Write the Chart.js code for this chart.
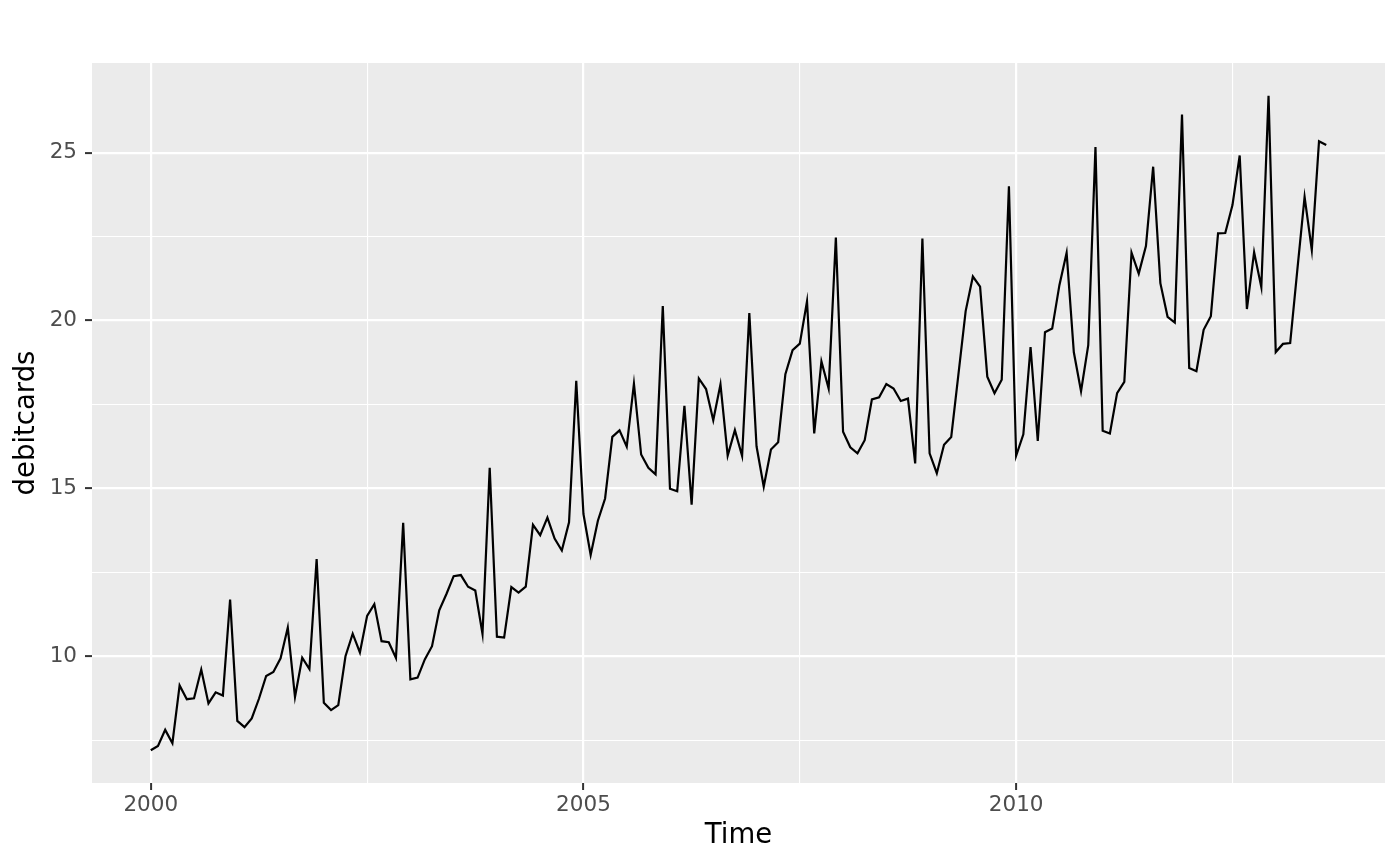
<!DOCTYPE html>
<html lang="en">
<head>
  <meta charset="UTF-8">
  <title>debitcards</title>
  <script src="https://cdn.jsdelivr.net/npm/chart.js"></script>
  <style>
    html, body { margin: 0; padding: 0; background: #fff; }
    #wrap { width: 1400px; height: 866px; }
  </style>
</head>
<body>
  <div id="wrap"><canvas id="chartDebit"></canvas></div>
  <script>
    // Monthly values, Jan 2000 .. Aug 2013
    var startYear = 2000;
    var debitcards = [
      7.204, 7.335, 7.812, 7.413, 9.136, 8.725, 8.751, 9.609, 8.601, 8.930, 8.835, 11.688,
      8.078, 7.892, 8.151, 8.738, 9.416, 9.533, 9.943, 10.859, 8.789, 9.960, 9.619, 12.900,
      8.620, 8.401, 8.546, 10.004, 10.675, 10.115, 11.206, 11.555, 10.453, 10.421, 9.950, 13.975,
      9.315, 9.366, 9.910, 10.302, 11.371, 11.857, 12.387, 12.421, 12.073, 11.963, 10.666, 15.613,
      10.586, 10.561, 12.064, 11.899, 12.077, 13.918, 13.611, 14.132, 13.509, 13.152, 13.993, 18.203,
      14.239, 13.019, 14.040, 14.701, 16.537, 16.728, 16.247, 18.119, 16.011, 15.617, 15.420, 20.433,
      14.990, 14.915, 17.463, 14.515, 18.275, 17.960, 17.031, 18.102, 15.977, 16.735, 15.966, 20.220,
      16.255, 15.053, 16.162, 16.377, 18.402, 19.118, 19.312, 20.569, 16.640, 18.781, 17.976, 22.474,
      16.688, 16.227, 16.045, 16.436, 17.652, 17.717, 18.111, 17.977, 17.606, 17.676, 15.744, 22.443,
      16.045, 15.454, 16.299, 16.534, 18.404, 20.281, 21.311, 21.008, 18.328, 17.835, 18.238, 24.000,
      15.971, 16.614, 19.212, 16.414, 19.650, 19.760, 21.054, 22.018, 19.054, 17.897, 19.264, 25.168,
      16.716, 16.638, 17.839, 18.174, 22.024, 21.398, 22.218, 24.580, 21.114, 20.112, 19.941, 26.135,
      18.587, 18.490, 19.726, 20.130, 22.597, 22.607, 23.437, 24.916, 20.342, 22.034, 20.995, 26.694,
      19.061, 19.304, 19.329, 21.526, 23.681, 22.102, 25.341, 25.226
    ];
    var xTicks = [2000, 2002.5, 2005, 2007.5, 2010, 2012.5];
    var yTicks = [7.5, 10, 12.5, 15, 17.5, 20, 22.5, 25];

    var puntos = debitcards.map(function (v, i) {
      return { x: startYear + i / 12, y: v };
    });

    // expansion del 5% como ggplot
    var xMin = puntos[0].x, xMax = puntos[puntos.length - 1].x;
    var yMin = Math.min.apply(null, debitcards), yMax = Math.max.apply(null, debitcards);
    var xPad = (xMax - xMin) * 0.05, yPad = (yMax - yMin) * 0.05;

    function esMayor(v) { return Math.abs(v % 5) < 1e-9; }

    var fondoPanel = {
      id: 'fondoPanel',
      beforeDraw: function (chart) {
        var a = chart.chartArea, c = chart.ctx;
        c.save();
        c.fillStyle = '#EBEBEB';
        c.fillRect(a.left, a.top, a.right - a.left, a.bottom - a.top);
        c.restore();
      }
    };

    Chart.defaults.font.family = 'DejaVu Sans';
    Chart.defaults.animation = false;

    var gridCfg = {
      color: '#fff',
      lineWidth: function (c) { return esMayor(c.tick.value) ? 2.2 : 1.1; },
      tickColor: function (c) { return esMayor(c.tick.value) ? '#333' : 'rgba(0,0,0,0)'; },
      tickLength: 7,
      tickWidth: 2
    };

    var ctx = document.getElementById('chartDebit').getContext('2d');
    var myChart = new Chart(ctx, {
      type: 'line',
      data: {
        datasets: [{
          label: 'debitcards',
          data: puntos,
          borderColor: '#000',
          borderWidth: 2.2,
          pointRadius: 0,
          tension: 0,
          fill: false
        }]
      },
      options: {
        responsive: true,
        maintainAspectRatio: false,
        layout: { padding: { left: 6, right: 15, top: 63, bottom: 10 } },
        plugins: { legend: { display: false }, tooltip: { enabled: false } },
        scales: {
          x: {
            type: 'linear',
            min: xMin - xPad,
            max: xMax + xPad,
            afterBuildTicks: function (s) { s.ticks = xTicks.map(function (v) { return { value: v }; }); },
            afterFit: function (s) { s.height = 73; },
            border: { display: false },
            grid: gridCfg,
            ticks: {
              autoSkip: false,
              maxRotation: 0,
              padding: 3,
              color: '#4D4D4D',
              font: { size: 21.5 },
              callback: function (v) { return esMayor(v) ? String(v) : ''; }
            },
            title: { display: true, text: 'Time', color: '#000', font: { size: 27.5 }, padding: { top: 0, bottom: 4 } }
          },
          y: {
            min: yMin - yPad,
            max: yMax + yPad,
            afterBuildTicks: function (s) { s.ticks = yTicks.map(function (v) { return { value: v }; }); },
            afterFit: function (s) { s.width = 86; },
            border: { display: false },
            grid: gridCfg,
            ticks: {
              autoSkip: false,
              padding: 8,
              color: '#4D4D4D',
              font: { size: 21.5 },
              callback: function (v) { return esMayor(v) ? String(v) : ''; }
            },
            title: { display: true, text: 'debitcards', color: '#000', font: { size: 27.5 }, padding: { top: 4, bottom: 4 } }
          }
        }
      },
      plugins: [fondoPanel]
    });
  </script>
</body>
</html>
